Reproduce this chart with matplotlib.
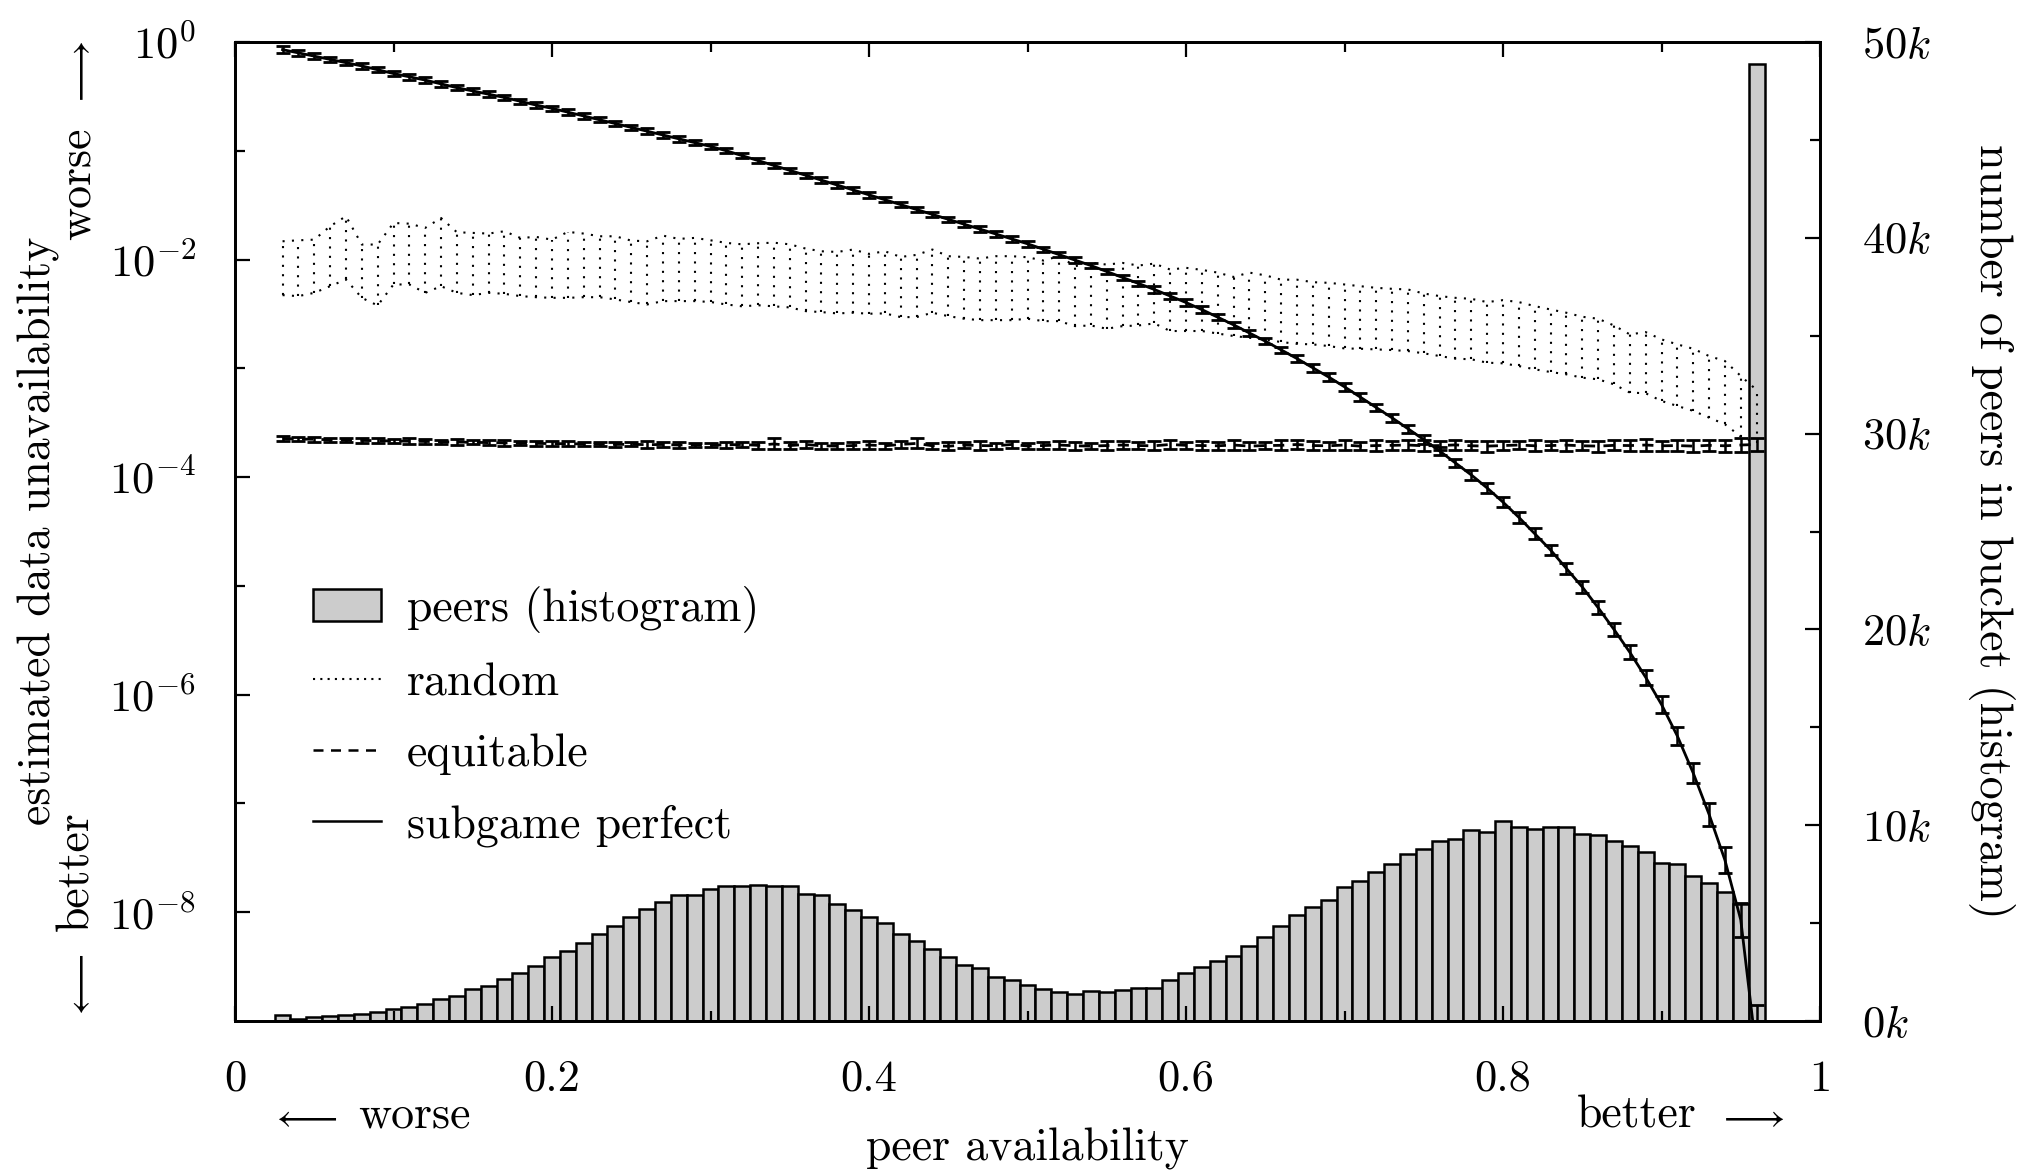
import numpy as np
import matplotlib
matplotlib.use("Agg")
import matplotlib.pyplot as plt
from matplotlib.lines import Line2D
from matplotlib.patches import Patch
from matplotlib.ticker import FixedLocator, NullFormatter

plt.rcParams['font.family'] = 'cmr10'
plt.rcParams['mathtext.fontset'] = 'cm'
plt.rcParams['axes.formatter.use_mathtext'] = True

# bucket centres (peer availability)
avail = np.round(np.arange(0.03, 0.965, 0.01), 2)

# number of peers per bucket, in thousands
peers_k = [
    0.32, 0.12, 0.19, 0.24, 0.29, 0.34, 0.46, 0.60, 0.72, 0.87,
    1.11, 1.26, 1.62, 1.79, 2.16, 2.45, 2.83, 3.29, 3.56, 3.99,
    4.46, 4.84, 5.32, 5.71, 6.10, 6.41, 6.42, 6.76, 6.92, 6.92,
    6.95, 6.88, 6.92, 6.51, 6.42, 5.98, 5.69, 5.32, 4.99, 4.45,
    4.09, 3.70, 3.27, 2.84, 2.71, 2.25, 2.11, 1.86, 1.65, 1.48,
    1.40, 1.52, 1.48, 1.60, 1.70, 1.70, 2.08, 2.45, 2.76, 3.08,
    3.34, 3.82, 4.29, 4.86, 5.43, 5.83, 6.20, 6.85, 7.17, 7.61,
    8.04, 8.53, 8.81, 9.20, 9.27, 9.78, 9.66, 10.20, 9.90, 9.82,
    9.93, 9.90, 9.55, 9.48, 9.19, 8.96, 8.63, 8.06, 8.04, 7.38,
    7.05, 6.60, 6.00, 48.9,
]

# estimated unavailability, stored as log10 values
subgame_log10 = [
    -0.07, -0.10, -0.13, -0.16, -0.19, -0.22, -0.255, -0.29, -0.32, -0.35,
    -0.385, -0.42, -0.45, -0.48, -0.51, -0.545, -0.58, -0.61, -0.645, -0.68,
    -0.715, -0.75, -0.785, -0.82, -0.855, -0.89, -0.925, -0.96, -1.00, -1.045,
    -1.09, -1.135, -1.18, -1.225, -1.27, -1.315, -1.36, -1.405, -1.45, -1.495,
    -1.54, -1.585, -1.63, -1.675, -1.72, -1.765, -1.81, -1.855, -1.905, -1.955,
    -2.005, -2.055, -2.11, -2.165, -2.22, -2.275, -2.335, -2.395, -2.46, -2.53,
    -2.60, -2.675, -2.75, -2.83, -2.91, -2.995, -3.08, -3.17, -3.265, -3.36,
    -3.455, -3.555, -3.655, -3.76, -3.87, -3.98, -4.10, -4.23, -4.37, -4.52,
    -4.67, -4.84, -5.01, -5.20, -5.40, -5.61, -5.84, -6.09, -6.38, -6.72,
    -7.10, -7.52, -8.07, -9.3,
]
subgame_err = [
    0.035, 0.03, 0.03, 0.025, 0.025, 0.025, 0.025, 0.025, 0.025, 0.025,
    0.025, 0.025, 0.025, 0.025, 0.025, 0.025, 0.025, 0.025, 0.025, 0.025,
    0.025, 0.025, 0.025, 0.025, 0.025, 0.025, 0.025, 0.025, 0.025, 0.025,
    0.025, 0.025, 0.025, 0.025, 0.025, 0.025, 0.025, 0.025, 0.025, 0.025,
    0.025, 0.025, 0.025, 0.025, 0.025, 0.025, 0.025, 0.025, 0.025, 0.025,
    0.025, 0.025, 0.025, 0.025, 0.025, 0.03, 0.03, 0.03, 0.03, 0.03,
    0.03, 0.03, 0.03, 0.03, 0.03, 0.035, 0.035, 0.035, 0.035, 0.035,
    0.035, 0.035, 0.04, 0.04, 0.04, 0.045, 0.045, 0.045, 0.05, 0.05,
    0.05, 0.055, 0.055, 0.06, 0.06, 0.065, 0.07, 0.075, 0.085, 0.095,
    0.105, 0.12, 0.155, 0.45,
]

equitable_log10 = [
    -3.645, -3.650, -3.652, -3.657, -3.660, -3.663, -3.665, -3.668, -3.670, -3.672,
    -3.675, -3.678, -3.680, -3.683, -3.686, -3.688, -3.690, -3.692, -3.693, -3.695,
    -3.697, -3.700, -3.698, -3.702, -3.700, -3.705, -3.703, -3.706, -3.704, -3.700,
    -3.708, -3.695, -3.710, -3.700, -3.712, -3.715, -3.710, -3.705, -3.712, -3.700,
    -3.690, -3.712, -3.716, -3.705, -3.710, -3.712, -3.700, -3.714, -3.710, -3.705,
    -3.712, -3.715, -3.710, -3.705, -3.710, -3.712, -3.700, -3.708, -3.710, -3.712,
    -3.705, -3.715, -3.710, -3.708, -3.700, -3.710, -3.712, -3.705, -3.715, -3.710,
    -3.708, -3.705, -3.712, -3.710, -3.704, -3.712, -3.715, -3.710, -3.705, -3.712,
    -3.710, -3.706, -3.712, -3.715, -3.708, -3.710, -3.705, -3.712, -3.710, -3.715,
    -3.708, -3.712, -3.705, -3.700,
]
equitable_err = [
    0.02, 0.02, 0.025, 0.02, 0.02, 0.025, 0.02, 0.02, 0.025, 0.02,
    0.02, 0.025, 0.02, 0.02, 0.025, 0.02, 0.02, 0.02, 0.025, 0.02,
    0.02, 0.025, 0.02, 0.03, 0.02, 0.025, 0.02, 0.02, 0.03, 0.025,
    0.03, 0.05, 0.03, 0.035, 0.03, 0.025, 0.03, 0.04, 0.03, 0.035,
    0.045, 0.03, 0.035, 0.03, 0.04, 0.03, 0.035, 0.03, 0.035, 0.04,
    0.035, 0.03, 0.04, 0.035, 0.035, 0.04, 0.045, 0.035, 0.04, 0.035,
    0.045, 0.04, 0.035, 0.045, 0.04, 0.04, 0.035, 0.045, 0.04, 0.05,
    0.04, 0.045, 0.05, 0.04, 0.045, 0.04, 0.05, 0.045, 0.04, 0.05,
    0.045, 0.05, 0.04, 0.05, 0.045, 0.05, 0.055, 0.045, 0.05, 0.055,
    0.05, 0.055, 0.06, 0.06,
]

# random strategy: upper and lower end of the error bar (log10)
random_hi = [
    -1.832, -1.823, -1.817, -1.694, -1.602, -1.862, -1.862, -1.664, -1.670, -1.709,
    -1.618, -1.749, -1.755, -1.761, -1.740, -1.801, -1.792, -1.817, -1.746, -1.761,
    -1.786, -1.786, -1.826, -1.832, -1.780, -1.810, -1.801, -1.823, -1.847, -1.860,
    -1.850, -1.845, -1.860, -1.899, -1.924, -1.930, -1.908, -1.948, -1.924, -1.976,
    -1.957, -1.908, -1.969, -1.976, -1.991, -1.969, -1.969, -1.979, -2.009, -1.969,
    -2.061, -2.031, -2.046, -2.031, -2.055, -2.037, -2.092, -2.076, -2.095, -2.120,
    -2.160, -2.120, -2.145, -2.185, -2.185, -2.208, -2.214, -2.229, -2.245, -2.260,
    -2.269, -2.275, -2.312, -2.336, -2.352, -2.361, -2.391, -2.373, -2.391, -2.428,
    -2.459, -2.489, -2.526, -2.544, -2.606, -2.688, -2.667, -2.734, -2.780, -2.820,
    -2.887, -2.933, -3.070, -3.199,
]
random_lo = [
    -2.327, -2.336, -2.306, -2.245, -2.183, -2.352, -2.422, -2.229, -2.229, -2.306,
    -2.245, -2.306, -2.327, -2.306, -2.315, -2.336, -2.346, -2.352, -2.352, -2.346,
    -2.346, -2.367, -2.391, -2.413, -2.382, -2.382, -2.382, -2.390, -2.413, -2.430,
    -2.420, -2.430, -2.440, -2.474, -2.483, -2.495, -2.489, -2.498, -2.495, -2.529,
    -2.529, -2.489, -2.520, -2.544, -2.557, -2.557, -2.557, -2.544, -2.566, -2.566,
    -2.612, -2.606, -2.636, -2.612, -2.606, -2.587, -2.657, -2.657, -2.657, -2.680,
    -2.703, -2.719, -2.737, -2.758, -2.775, -2.780, -2.795, -2.817, -2.820, -2.826,
    -2.832, -2.841, -2.862, -2.887, -2.911, -2.917, -2.948, -2.954, -2.979, -3.009,
    -3.034, -3.055, -3.086, -3.101, -3.147, -3.223, -3.229, -3.300, -3.346, -3.391,
    -3.453, -3.514, -3.627, -3.691,
]

x_ticks = [0, 0.2, 0.4, 0.6, 0.8, 1.0]
x_labels = ['0', '0.2', '0.4', '0.6', '0.8', '1']
left_ticks = [1e0, 1e-2, 1e-4, 1e-6, 1e-8]
left_labels = [r'$10^{0}$', r'$10^{-2}$', r'$10^{-4}$', r'$10^{-6}$', r'$10^{-8}$']
right_ticks = [0, 10, 20, 30, 40, 50]
right_labels = [r'$%dk$' % t for t in right_ticks]
legend_labels = ['peers (histogram)', 'random', 'equitable', 'subgame perfect']

W, H = 2022, 1173
FS = 33       # text
FS_TICK = 32  # tick labels
FS_ARROW = 28
DOT = (0, (1, 3.5))
DASH = (0, (4.0, 3.0))


def fx(px):
    return px / W


def fy(py):
    return 1 - py / H


def log_errs(vals, errs):
    vals = np.array(vals)
    errs = np.array(errs)
    y = 10 ** vals
    return y, [y - 10 ** (vals - errs), 10 ** (vals + errs) - y]


fig = plt.figure(figsize=(W / 100, H / 100), dpi=100)
ax = fig.add_axes([fx(235), fy(1021), (1820 - 235) / W, (1021 - 42) / H])
ax2 = ax.twinx()
ax.set_zorder(ax2.get_zorder() + 1)
ax.patch.set_visible(False)

# histogram on the right axis
ax2.bar(avail, peers_k, width=0.01, color='#cccccc', edgecolor='black', linewidth=1.8)
ax2.set_ylim(0, 50)
ax2.set_yticks(right_ticks)
ax2.set_yticklabels(right_labels)
ax2.yaxis.set_minor_locator(FixedLocator([5, 15, 25, 35, 45]))

# random: dotted error bars forming a band
r_hi = 10 ** np.array(random_hi)
r_lo = 10 ** np.array(random_lo)
ax.plot(avail, r_hi, color='black', lw=1.5, ls=DOT)
ax.plot(avail, r_lo, color='black', lw=1.5, ls=DOT)
ax.vlines(avail, r_lo, r_hi, colors='black', linewidth=1.5, linestyles=[DOT])

# equitable
y_eq, err_eq = log_errs(equitable_log10, equitable_err)
ax.errorbar(avail, y_eq, yerr=err_eq, color='black', lw=2.0, ls=DASH,
            capsize=4.8, capthick=2.0, elinewidth=1.8)

# subgame perfect
y_sg, err_sg = log_errs(subgame_log10, subgame_err)
ax.errorbar(avail, y_sg, yerr=err_sg, color='black', lw=2.0,
            capsize=4.8, capthick=2.0, elinewidth=1.8)

ax.set_xlim(0, 1)
ax.set_yscale('log')
ax.set_ylim(1e-9, 1)
ax.set_xticks(x_ticks)
ax.set_xticklabels(x_labels)
ax.xaxis.set_minor_locator(FixedLocator([0.1, 0.3, 0.5, 0.7, 0.9]))
ax.set_yticks(left_ticks)
ax.set_yticklabels(left_labels)
ax.yaxis.set_minor_locator(FixedLocator([1e-1, 1e-3, 1e-5, 1e-7]))
ax.yaxis.set_minor_formatter(NullFormatter())

ax.tick_params(which='both', direction='in', top=True, right=False, width=1.6, labelsize=FS_TICK)
ax.tick_params(which='major', length=11)
ax.tick_params(which='minor', length=7)
ax.tick_params(axis='x', pad=28)
ax.tick_params(axis='y', pad=28)
ax2.tick_params(which='both', direction='in', left=False, right=True, width=1.6,
                labelsize=FS_TICK, pad=30)
ax2.tick_params(which='major', length=11)
ax2.tick_params(which='minor', length=7)
for a in (ax, ax2):
    for s in a.spines.values():
        s.set_linewidth(2.0)

# legend
handles = [
    Patch(facecolor='#cccccc', edgecolor='black', linewidth=1.8),
    Line2D([], [], color='black', lw=1.5, ls=(0, (1, 2.5))),
    Line2D([], [], color='black', lw=1.8, ls=DASH),
    Line2D([], [], color='black', lw=1.8),
]
ax.legend(handles, legend_labels, loc='center left', bbox_to_anchor=(fx(313), fy(716.5)),
          bbox_transform=fig.transFigure, frameon=False, fontsize=FS,
          handlelength=1.48, handleheight=0.72, handletextpad=0.57,
          labelspacing=0.64, borderpad=0, borderaxespad=0)

# axis labels
fig.text(fx(51), fy(531), 'estimated data unavailability', rotation=90, rotation_mode='anchor',
         ha='center', va='baseline', fontsize=FS)
fig.text(fx(1980), fy(531), 'number of peers in bucket (histogram)', rotation=-90,
         rotation_mode='anchor', ha='center', va='baseline', fontsize=FS)
fig.text(fx(1027), fy(1160), 'peer availability', ha='center', va='baseline', fontsize=FS)

# direction hints, left side (rotated)
fig.text(fx(90), fy(40), r'$\longrightarrow$', rotation=90, rotation_mode='anchor',
         ha='right', va='baseline', fontsize=FS_ARROW)
fig.text(fx(90), fy(128), 'worse', rotation=90, rotation_mode='anchor',
         ha='right', va='baseline', fontsize=FS)
fig.text(fx(90), fy(1021), r'$\longleftarrow$', rotation=90, rotation_mode='anchor',
         ha='left', va='baseline', fontsize=FS_ARROW)
fig.text(fx(88), fy(931), 'better', rotation=90, rotation_mode='anchor',
         ha='left', va='baseline', fontsize=FS)

# direction hints, bottom
fig.text(fx(270), fy(1127), r'$\longleftarrow$', ha='left', va='baseline', fontsize=FS_ARROW)
fig.text(fx(358), fy(1127), 'worse', ha='left', va='baseline', fontsize=FS)
fig.text(fx(1697), fy(1127), 'better', ha='right', va='baseline', fontsize=FS)
fig.text(fx(1785), fy(1127), r'$\longrightarrow$', ha='right', va='baseline', fontsize=FS_ARROW)

fig.savefig('out.png', dpi=100)
